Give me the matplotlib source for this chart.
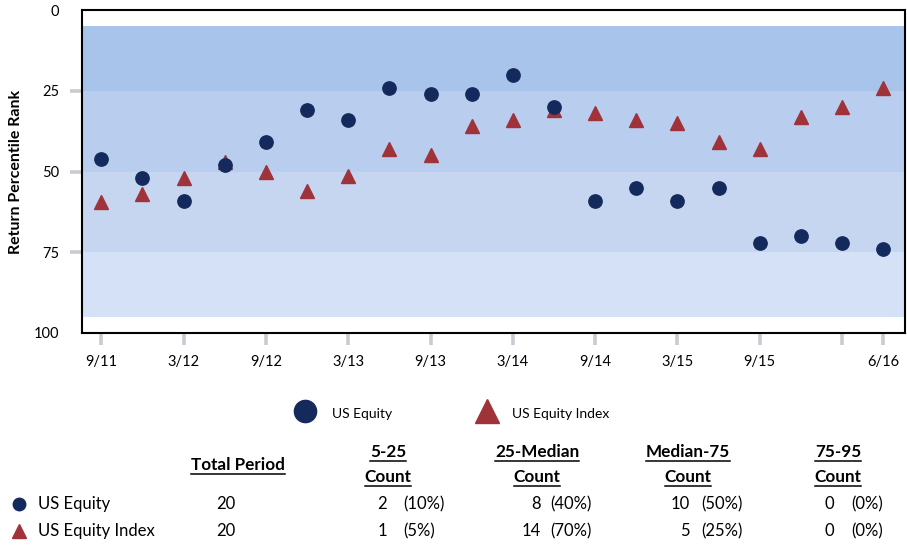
import matplotlib
matplotlib.use("Agg")
import matplotlib.pyplot as plt
from matplotlib.lines import Line2D

# ---------------- data ----------------
quarters = ["9/11", "12/11", "3/12", "6/12", "9/12", "12/12", "3/13", "6/13",
            "9/13", "12/13", "3/14", "6/14", "9/14", "12/14", "3/15", "6/15",
            "9/15", "12/15", "3/16", "6/16"]
us_equity = [46, 52, 59, 48, 41, 31, 34, 24, 26, 26,
             20, 30, 59, 55, 59, 55, 72, 70, 72, 74]
us_equity_index = [59.5, 57, 52, 47, 50, 56, 51.5, 43, 45, 36,
                   34, 31, 32, 34, 35, 41, 43, 33, 30, 24]
series_names = ["US Equity", "US Equity Index"]
band_edges = [5, 25, 50, 75, 95]
band_names = ["5-25", "25-Median", "Median-75", "75-95"]
band_colors = ["#a9c4eb", "#b9cdef", "#c6d6f1", "#d5e1f6"]
y_ticks = [0, 25, 50, 75, 100]
x_tick_idx = [0, 2, 4, 6, 8, 10, 12, 14, 16, 18, 19]
x_tick_hidden_labels = ["3/16"]

circle_color = "#152a5c"
tri_color = "#a0333a"
tick_gray = "#c8ccd2"

FONT = ["Lato", "DejaVu Sans"]
plt.rcParams["font.family"] = FONT

W, H = 907, 546
fig = plt.figure(figsize=(W / 100, H / 100), dpi=100)
ax = fig.add_axes([82 / W, (H - 333) / H, (905 - 82) / W, (333 - 10) / H])

for i in range(len(band_colors)):
    ax.axhspan(band_edges[i], band_edges[i + 1], color=band_colors[i], lw=0, zorder=0)

x = list(range(len(quarters)))
ax.plot(x, us_equity_index, linestyle="none", marker="^", markersize=10.5,
        color=tri_color, zorder=3)
ax.plot(x, us_equity, linestyle="none", marker="o", markersize=9.6,
        color=circle_color, zorder=4)

ax.set_xlim(-0.47, 19.53)
ax.set_ylim(100, 0)

ax.set_yticks(y_ticks)
ax.set_yticklabels([str(v) for v in y_ticks], fontsize=10.5)
ax.set_xticks(x_tick_idx)
ax.set_xticklabels([("" if quarters[i] in x_tick_hidden_labels else quarters[i])
                    for i in x_tick_idx], fontsize=10.5)
ax.tick_params(axis="both", direction="out", length=8.5, width=2.6, color=tick_gray)
ax.tick_params(axis="y", pad=8)
ax.tick_params(axis="x", pad=7)
yt = ax.yaxis.get_major_ticks()
yt[0].tick1line.set_visible(False)
yt[-1].tick1line.set_visible(False)

for s in ax.spines.values():
    s.set_linewidth(1.5)
    s.set_color("black")
    s.set_zorder(5)

ylab = ax.set_ylabel("Return Percentile Rank", fontsize=11.5, fontweight="bold")
ax.yaxis.set_label_coords(-0.072, 0.5)

# -------------- overlay for legend and table --------------
ov = fig.add_axes([0, 0, 1, 1], zorder=10)
ov.set_xlim(0, W)
ov.set_ylim(H, 0)
ov.axis("off")

# legend
ov.plot([305], [411], marker="o", markersize=16, color=circle_color, linestyle="none")
ov.text(332, 414, series_names[0], fontsize=10, va="center", ha="left")
ov.plot([487], [411], marker="^", markersize=17, color=tri_color, linestyle="none")
ov.text(512, 414, series_names[1], fontsize=10, va="center", ha="left")

# table
header_texts = []
header_texts.append(ov.text(238, 465, "Total Period", fontsize=12.3, fontweight="bold",
                            ha="center", va="center"))
hx = [388, 537, 688, 838]
for cx, name in zip(hx, band_names):
    header_texts.append(ov.text(cx, 452, name, fontsize=12.3, fontweight="bold",
                                ha="center", va="center"))
    header_texts.append(ov.text(cx, 477, "Count", fontsize=12.3, fontweight="bold",
                                ha="center", va="center"))

count_right = [387, 541, 690, 834]
pct_left = [403, 550, 701, 851]
row_y = [504, 531]
row_markers = ["o", "^"]
row_colors = [circle_color, tri_color]
row_msize = [9, 10]
for series, name, ry, mk, col, ms in zip([us_equity, us_equity_index], series_names,
                                         row_y, row_markers, row_colors, row_msize):
    n = len(series)
    counts = []
    for b in range(len(band_names)):
        lo, hi = band_edges[b], band_edges[b + 1]
        if b == 0:
            c = sum(1 for v in series if v <= hi)
        elif b == len(band_names) - 1:
            c = sum(1 for v in series if v > lo)
        else:
            c = sum(1 for v in series if lo < v <= hi)
        counts.append(c)
    ov.plot([19], [ry], marker=mk, markersize=ms, color=col, linestyle="none")
    ov.text(38, ry, name, fontsize=12, ha="left", va="center")
    ov.text(226, ry, str(n), fontsize=12, ha="center", va="center")
    for c, rx, lx in zip(counts, count_right, pct_left):
        ov.text(rx, ry, str(c), fontsize=12, ha="right", va="center")
        ov.text(lx, ry, "(%d%%)" % round(100 * c / n), fontsize=12, ha="left", va="center")

# underline the headers
fig.canvas.draw()
r = fig.canvas.get_renderer()
for t in header_texts:
    bb = t.get_window_extent(renderer=r)
    yy = H - bb.y0 + 0.5
    ov.add_line(Line2D([bb.x0, bb.x1], [yy, yy], color="black", lw=1.1))

fig.savefig("out.png", dpi=100)
